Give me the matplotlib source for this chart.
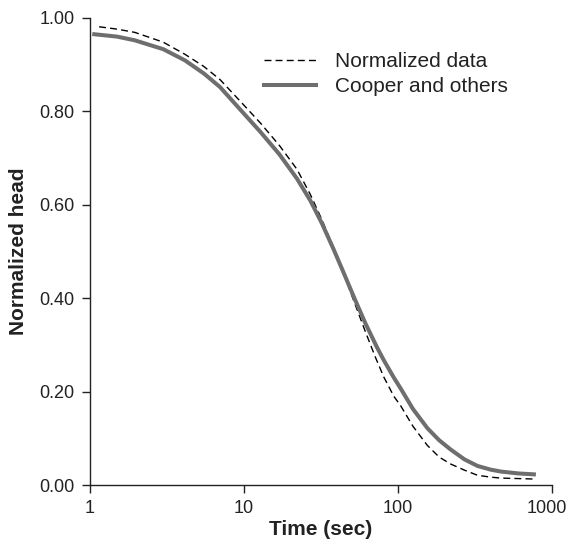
import matplotlib.pyplot as plt
from matplotlib.transforms import ScaledTranslation

plt.rcParams['font.family'] = ['Liberation Sans', 'DejaVu Sans']

# values (time in sec, normalized head)
t_data = [1.15, 1.5, 1.96, 3.0, 4.15, 5.5, 7.0, 9.7, 12.8, 17, 22.1, 27, 32, 38.3, 45, 52, 61.5,
          71.5, 81, 94, 104, 125, 155, 185, 220, 270, 328, 400, 465, 600, 762]
h_data = [0.981, 0.976, 0.969, 0.948, 0.922, 0.896, 0.868, 0.818, 0.775, 0.727, 0.676, 0.622, 0.569,
          0.507, 0.447, 0.392, 0.328, 0.273, 0.231, 0.190, 0.170, 0.126, 0.085, 0.060, 0.045, 0.032,
          0.021, 0.017, 0.015, 0.014, 0.013]

t_cooper = [1.07, 1.5, 1.96, 3.0, 4.15, 5.5, 7.0, 9.7, 12.8, 17, 22.1, 27, 32, 38.3, 45, 52, 61.5,
            73.3, 81, 94, 104, 125, 155, 185, 220, 270, 328, 400, 465, 600, 762]
h_cooper = [0.965, 0.960, 0.952, 0.933, 0.909, 0.881, 0.852, 0.800, 0.756, 0.708, 0.656, 0.609, 0.561,
            0.504, 0.450, 0.401, 0.346, 0.294, 0.267, 0.230, 0.207, 0.163, 0.122, 0.096, 0.076, 0.055,
            0.041, 0.033, 0.029, 0.025, 0.023]

xticks = [1, 10, 100, 1000]
yticks = [0, 0.2, 0.4, 0.6, 0.8, 1.0]
txt = '#222222'

fig = plt.figure(figsize=(5.68, 5.42), dpi=100)
ax = fig.add_axes([0.158, 0.105, 0.814, 0.862])

ax.plot(t_data, h_data, color='black', lw=1.0, ls=(0, (5, 3)), label='Normalized data')
ax.plot(t_cooper, h_cooper, color='#6e6e6e', lw=2.9, label='Cooper and others')

ax.set_xscale('log')
ax.set_xlim(1, 1000)
ax.set_ylim(0, 1)
ax.set_xticks(xticks)
ax.set_xticklabels([str(x) for x in xticks])
ax.minorticks_off()
ax.set_yticks(yticks)
ax.set_yticklabels(['%.2f' % y for y in yticks])

for s in ['top', 'right']:
    ax.spines[s].set_visible(False)
for s in ['left', 'bottom']:
    ax.spines[s].set_linewidth(1.0)
    ax.spines[s].set_color(txt)
ax.tick_params(direction='out', length=6, width=1.0, labelsize=13, colors=txt)
ax.tick_params(axis='x', pad=5)
ax.tick_params(axis='y', pad=5)

# nudge the last x label so it stays inside the figure
lab = ax.get_xticklabels()[-1]
lab.set_transform(lab.get_transform() + ScaledTranslation(-5 / 100, 0, fig.dpi_scale_trans))

ax.set_xlabel('Time (sec)', fontsize=15, fontweight='bold', color=txt, labelpad=2)
ax.set_ylabel('Normalized head', fontsize=15, fontweight='bold', color=txt, labelpad=8)

ax.legend(loc='upper left', bbox_to_anchor=(0.446, 0.923), bbox_transform=fig.transFigure,
          frameon=False, fontsize=15, borderpad=0, handlelength=2.5, handletextpad=0.9,
          labelspacing=0.3, labelcolor=txt)

plt.savefig('out.png', dpi=100)
